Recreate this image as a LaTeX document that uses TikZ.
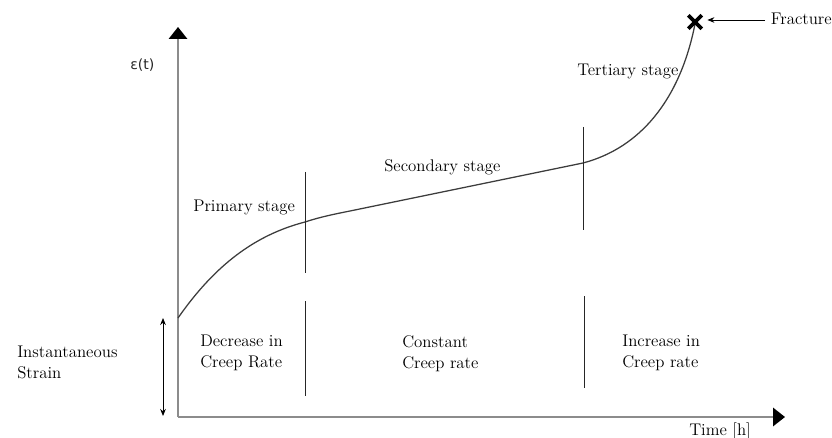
\documentclass[tikz,border=0pt]{standalone}
\usepackage{fontspec}
\usepackage{tikz}
\usetikzlibrary{arrows.meta, positioning, calc, shapes.misc}
\newfontfamily\epsfont{DejaVu Sans}
\definecolor{axisgray}{RGB}{140, 140, 140}
\definecolor{curvegray}{RGB}{60, 60, 60}

\begin{document}
\begin{tikzpicture}[x=0.025cm, y=-0.025cm,
        txt/.style={font=\fontsize{12}{15}\selectfont, inner sep=0pt, text=black},
        axis/.style={axisgray, line width=1.5pt, -{Triangle[length=8.5pt, width=13pt, color=black]}},
        divider/.style={black!85, line width=0.6pt},
        creep/.style={curvegray, line width=0.9pt}]
        \useasboundingbox (0,0) rectangle (832,438);

        % axes
        \coordinate (o) at (178,417);
        \coordinate (ytip) at (178,27);
        \coordinate (xtip) at (785,417);
        \draw[axis] (o) -- (ytip);
        \draw[axis] (o) -- (xtip);
        \node[anchor=base west, inner sep=0pt, font=\epsfont\fontsize{10}{12}\selectfont, text=black!85] (eps) at (130,70) {ε(t)};
        \node[txt, anchor=base west] (time) at (689,435) {Time [h]};

        % creep curve
        \coordinate (c0) at (178,318);
        \coordinate (c1) at (305,222);
        \coordinate (c2) at (350,211);
        \coordinate (c3) at (583,163);
        \coordinate (c4) at (695,24);
        \draw[creep] (c0) .. controls (215,265) and (255,235) .. (c1)
            .. controls (320,217) and (335,214) .. (c2) -- (c3)
            .. controls (640,148) and (680,100) .. (c4);

        % fracture
        \node[cross out, draw=black, line width=2.6pt, minimum size=7pt, inner sep=0pt] (fx) at (695,22) {};
        \node[txt, anchor=base west, inner sep=4pt] (frac) at (765,25) {Fracture};
        \draw[-{Stealth[length=5pt, width=4pt]}, black, line width=0.6pt, shorten >=4pt] ($(frac.base west)+(0,-5)$) -- (fx.east |- {$(frac.base west)+(0,-5)$});

        % stage dividers
        \coordinate (d1a) at (305,172);
        \coordinate (d1b) at (305,273);
        \coordinate (d1c) at (305,301);
        \coordinate (d1d) at (305,396);
        \coordinate (d2a) at (583,127);
        \coordinate (d2b) at (583,230);
        \coordinate (d2c) at (584,296);
        \coordinate (d2d) at (584,388);
        \draw[divider] (d1a) -- (d1b);
        \draw[divider] (d1c) -- (d1d);
        \draw[divider] (d2a) -- (d2b);
        \draw[divider] (d2c) -- (d2d);

        % stage labels
        \node[txt, anchor=base west] (prim) at (193,212) {Primary stage};
        \node[txt, anchor=base west] (sec) at (384,172) {Secondary stage};
        \node[txt, anchor=base west] (tert) at (577,76) {Tertiary stage};

        % rate labels
        \node[txt, anchor=north west, align=left] (decr) at (200,335) {Decrease in\\Creep Rate};
        \node[txt, anchor=north west, align=left] (const) at (402,335) {Constant\\Creep rate};
        \node[txt, anchor=north west, align=left] (incr) at (622,335) {Increase in\\Creep rate};

        % instantaneous strain
        \node[txt, anchor=north west, align=left] (inst) at (17,346) {Instantaneous\\Strain};
        \coordinate (s0) at (163,318);
        \coordinate (s1) at (163,416);
        \draw[{Stealth[length=5pt, width=4pt]}-{Stealth[length=5pt, width=4pt]}, black, line width=0.6pt] (s0) -- (s1);
    \end{tikzpicture}
\end{document}
